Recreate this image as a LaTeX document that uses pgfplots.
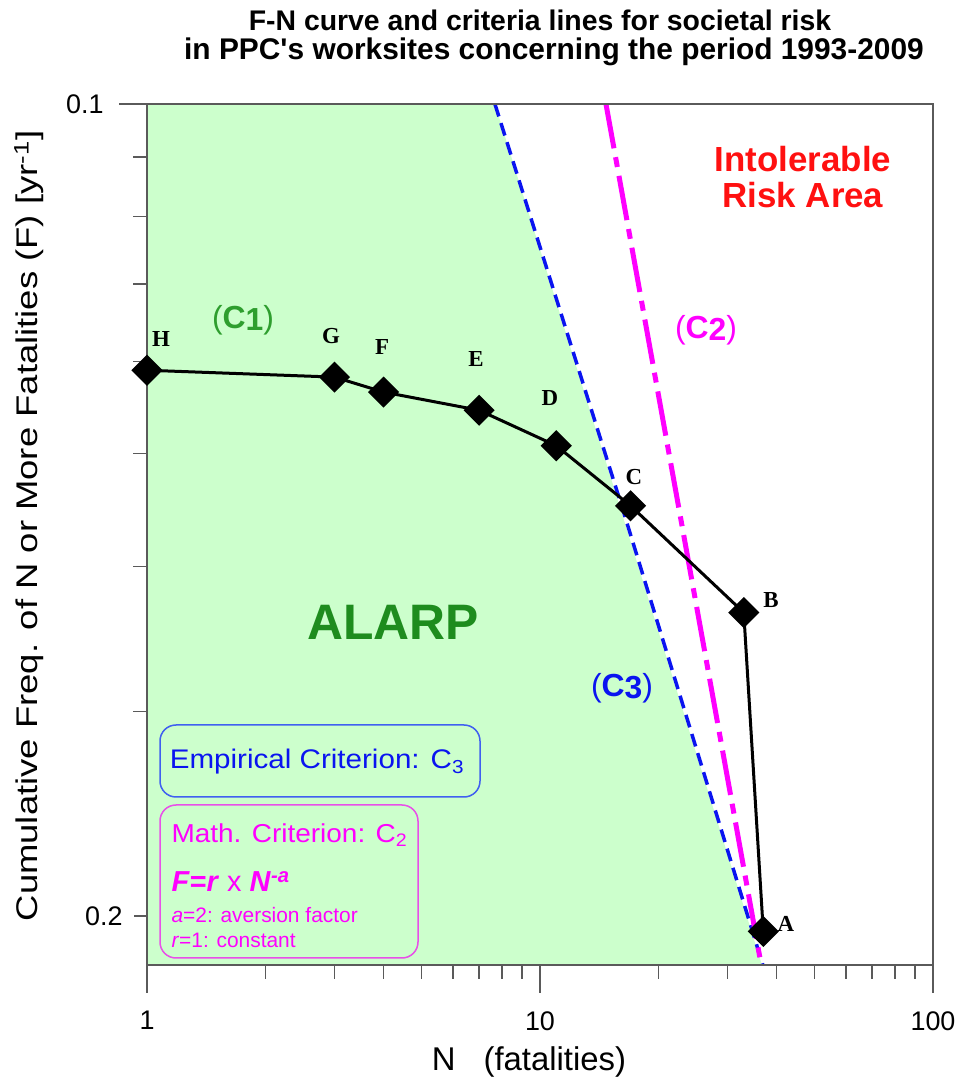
\documentclass[border=0pt]{standalone}
\usepackage{fontspec}
\setmainfont{Liberation Sans}
\newfontfamily\serifb{Liberation Serif}
\usepackage{pgfplots}
\pgfplotsset{compat=1.18}
\definecolor{alarpfill}{HTML}{CCFFCC}
\definecolor{critblue}{HTML}{0A14F0}
\definecolor{critmag}{HTML}{FF00FF}
\definecolor{intred}{HTML}{FF1010}
\definecolor{cgreen}{HTML}{2E9E2E}
\definecolor{alarpgreen}{HTML}{1E8C1E}
\definecolor{boxblue}{HTML}{4060F0}
\definecolor{boxmag}{HTML}{E850E8}
\definecolor{frame}{HTML}{5A5A5A}

\begin{document}
\begin{tikzpicture}
\useasboundingbox (-147bp,-119bp) rectangle (809bp,965bp);
\begin{axis}[
  at={(0,0)}, anchor=south west,
  scale only axis, width=786bp, height=861bp,
  xmode=log, ymode=log,
  xmin=1, xmax=100, ymin=0.01815, ymax=0.1,
  xtick={1,10,100}, xticklabels={1,10,100},
  minor xtick={2,3,4,5,6,7,8,9,20,30,40,50,60,70,80,90},
  ytick={0.1}, yticklabels={0.1},
  extra y ticks={0.02}, extra y tick labels={0.2},
  extra y tick style={major tick length=13bp, yticklabel style={xshift=4bp}},
  minor ytick={0.03,0.04,0.05,0.06,0.07,0.08,0.09},
  tick pos=left, tick align=outside,
  major tick length=28bp, minor tick length=14bp,
  tick style={draw=frame, line width=1.5bp},
  axis line style={draw=frame, line width=2bp},
  ticklabel style={font=\fontsize{27}{27}\selectfont},
  xticklabel style={yshift=-15bp},
  yticklabel style={xshift=-12bp},
  axis on top,
]
% ALARP region, bounded by the empirical criterion C3
\addplot[fill=alarpfill, draw=none] coordinates {
  (1,0.1) (7.68,0.1) (36.7,0.01815) (1,0.01815)
} -- cycle;
% C3: empirical criterion
\addplot[critblue, line width=3.5bp, dash pattern=on 13bp off 7bp] coordinates {
  (7.68,0.1) (16.2,0.0449) (36.9,0.01815)
};
% C2: F = r N^-a
\addplot[critmag, line width=5bp, dash pattern=on 45bp off 9bp on 10bp off 9bp] coordinates {
  (14.72,0.1) (36.3,0.01839)
};
% F-N curve
\addplot[black, line width=3bp, mark=square*,
  mark options={rotate=45, solid}, mark size=9.5bp] coordinates {
  (1,0.0590) (3,0.0582) (4,0.0565) (7,0.0545) (11,0.0508)
  (17,0.0451) (33,0.0365) (37,0.0194)
};
\end{axis}

% title
\node[font=\fontsize{28.5}{28}\selectfont\bfseries] at (393bp,945bp)
  {F-N curve and criteria lines for societal risk};
\node[font=\fontsize{30}{30}\selectfont\bfseries] at (407bp,913bp)
  {in PPC\textquotesingle s worksites concerning the period 1993-2009};

% axis labels
\node[rotate=90, font=\fontsize{30}{30}\selectfont] at (-118bp,439bp)
  {\scalebox{1.22}[1]{Cumulative Freq. of N or More Fatalities (F) [yr\textsuperscript{-1}]}};
\node[font=\fontsize{33}{33}\selectfont] at (382bp,-97bp)
  {N\hspace{28bp}(fatalities)};

% point labels
\begin{scope}[font=\fontsize{23}{23}\selectfont\serifb\bfseries]
\node at (14bp,626bp) {H};
\node at (184bp,629bp) {G};
\node at (235bp,618bp) {F};
\node at (329bp,606bp) {E};
\node at (403bp,567bp) {D};
\node at (487bp,488bp) {C};
\node at (624bp,365bp) {B};
\node at (639bp,41bp) {A};
\end{scope}

% region and line labels
\node[text=intred, align=center, font=\fontsize{35}{36}\selectfont\bfseries]
  at (656bp,788bp) {Intolerable\\Risk Area};
\node[text=cgreen, font=\fontsize{32}{32}\selectfont] at (96bp,645bp)
  {(\textbf{C\raisebox{-2bp}{1}})};
\node[text=critmag, font=\fontsize{32}{32}\selectfont] at (559bp,635bp)
  {(\textbf{C\raisebox{-2bp}{2}})};
\node[text=critblue, font=\fontsize{32}{32}\selectfont] at (475bp,277bp)
  {(\textbf{C\raisebox{-2bp}{3}})};
\node[text=alarpgreen, font=\fontsize{50}{50}\selectfont\bfseries] at (246bp,343bp)
  {ALARP};

% criteria boxes
\draw[boxblue, line width=1.5bp, rounded corners=16bp] (13bp,168bp) rectangle (333bp,240bp);
\node[text=critblue, font=\fontsize{27}{27}\selectfont] at (170bp,203bp)
  {\scalebox{1.1}[1]{Empirical Criterion: C\textsubscript{3}}};
\draw[boxmag, line width=1.5bp, rounded corners=16bp] (13bp,7bp) rectangle (271bp,160bp);
\node[anchor=west, text=critmag, font=\fontsize{26}{26}\selectfont] at (21bp,130bp)
  {\scalebox{1.08}[1]{Math. Criterion: C\textsubscript{2}}};
\node[anchor=west, text=critmag, font=\fontsize{29}{29}\selectfont] at (21bp,83bp)
  {\textbf{\textit{F}=\textit{r}} x \textbf{\textit{N}\textsuperscript{\textit{-a}}}};
\node[anchor=west, text=critmag, font=\fontsize{21}{21}\selectfont] at (21bp,50bp)
  {\textit{a}=2: aversion factor};
\node[anchor=west, text=critmag, font=\fontsize{21}{21}\selectfont] at (21bp,25bp)
  {\textit{r}=1: constant};
\end{tikzpicture}
\end{document}
